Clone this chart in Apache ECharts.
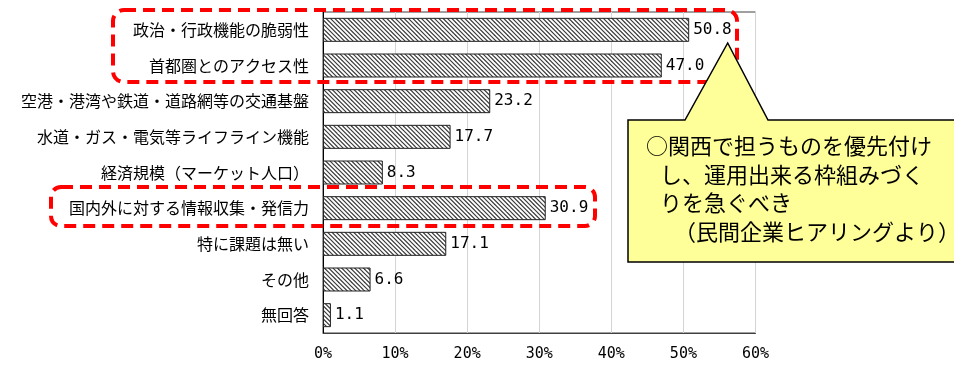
<!DOCTYPE html>
<html>
<head>
<meta charset="utf-8">
<script src="https://cdn.jsdelivr.net/npm/echarts@6/dist/echarts.min.js"></script>
<style>
html,body{margin:0;padding:0;background:#fff;}
#c{width:954px;height:365px;}
</style>
</head>
<body>
<div id="c"></div>
<script>
const categories = [
  '政治・行政機能の脆弱性',
  '首都圏とのアクセス性',
  '空港・港湾や鉄道・道路網等の交通基盤',
  '水道・ガス・電気等ライフライン機能',
  '経済規模（マーケット人口）',
  '国内外に対する情報収集・発信力',
  '特に課題は無い',
  'その他',
  '無回答'
];
const values = [50.8, 47.0, 23.2, 17.7, 8.3, 30.9, 17.1, 6.6, 1.1];
const axisMin = 0, axisMax = 60, axisStep = 10;
const calloutLines = [
  '○関西で担うものを優先付け',
  'し、運用出来る枠組みづく',
  'りを急ぐべき',
  '（民間企業ヒアリングより）'
];

// hatch pattern
function makeHatch() {
  const S = 13, n = 3;
  const cv = document.createElement('canvas');
  cv.width = S; cv.height = S;
  const ctx = cv.getContext('2d');
  ctx.fillStyle = '#fff';
  ctx.fillRect(0, 0, S, S);
  ctx.strokeStyle = '#3a3a3a';
  ctx.lineWidth = 1.2;
  for (let k = -n; k <= n; k++) {
    const c = k * S / n;
    ctx.beginPath();
    ctx.moveTo(c - 2, -2);
    ctx.lineTo(c + S + 2, S + 2);
    ctx.stroke();
  }
  return cv;
}

const chart = echarts.init(document.getElementById('c'), null, {renderer: 'canvas'});
const jp = '"Noto Sans CJK JP", "Noto Sans", sans-serif';
const mono = '"DejaVu Sans Mono", "Liberation Mono", monospace';

const option = {
  animation: false,
  backgroundColor: '#fff',
  grid: {
    left: 323, right: 198.5, top: 12, bottom: 32,
    show: true, borderColor: '#404040', borderWidth: 1, backgroundColor: 'transparent'
  },
  xAxis: {
    type: 'value', min: axisMin, max: axisMax, interval: axisStep,
    axisLine: {show: true, lineStyle: {color: '#404040', width: 1}},
    axisTick: {show: false},
    splitLine: {show: true, lineStyle: {color: '#d4d4d4', width: 1}},
    axisLabel: {
      formatter: v => v + '%', color: '#000', fontFamily: mono, fontSize: 15, margin: 14
    }
  },
  yAxis: {
    type: 'category', data: categories, inverse: true,
    axisLine: {show: true, lineStyle: {color: '#000', width: 1}},
    axisTick: {show: false},
    splitLine: {show: false},
    axisLabel: {color: '#000', fontFamily: jp, fontSize: 16, margin: 14}
  },
  series: [{
    type: 'bar',
    data: values,
    barWidth: 24,
    itemStyle: {
      color: {image: makeHatch(), repeat: 'repeat'},
      borderColor: '#222', borderWidth: 1
    },
    label: {
      show: true, position: 'right', distance: 4,
      formatter: p => p.value.toFixed(1),
      color: '#000', fontFamily: mono, fontSize: 16
    },
    z: 2
  }],
  graphic: [
    {
      type: 'rect', z: 50,
      shape: {x: 113, y: 10, width: 624, height: 72, r: 11},
      style: {fill: 'none', stroke: '#ff0000', lineWidth: 4, lineDash: [12, 7]}
    },
    {
      type: 'rect', z: 50,
      shape: {x: 51, y: 187, width: 544, height: 39, r: 10},
      style: {fill: 'none', stroke: '#ff0000', lineWidth: 4, lineDash: [12, 7]}
    },
    {
      type: 'polygon', z: 60,
      shape: {points: [[628, 120], [685, 120], [727.7, 43], [768, 120], [960, 120], [960, 262], [628, 262]]},
      style: {fill: '#ffff99', stroke: '#000', lineWidth: 1.5}
    },
    {type: 'text', z: 61, x: 646, y: 146, style: {text: calloutLines[0], font: '22px ' + jp, fill: '#000', textVerticalAlign: 'middle'}},
    {type: 'text', z: 61, x: 660, y: 175, style: {text: calloutLines[1], font: '22px ' + jp, fill: '#000', textVerticalAlign: 'middle'}},
    {type: 'text', z: 61, x: 660, y: 203, style: {text: calloutLines[2], font: '22px ' + jp, fill: '#000', textVerticalAlign: 'middle'}},
    {type: 'text', z: 61, x: 674, y: 232, style: {text: calloutLines[3], font: '22px ' + jp, fill: '#000', textVerticalAlign: 'middle'}}
  ]
};
chart.setOption(option);
</script>
</body>
</html>
